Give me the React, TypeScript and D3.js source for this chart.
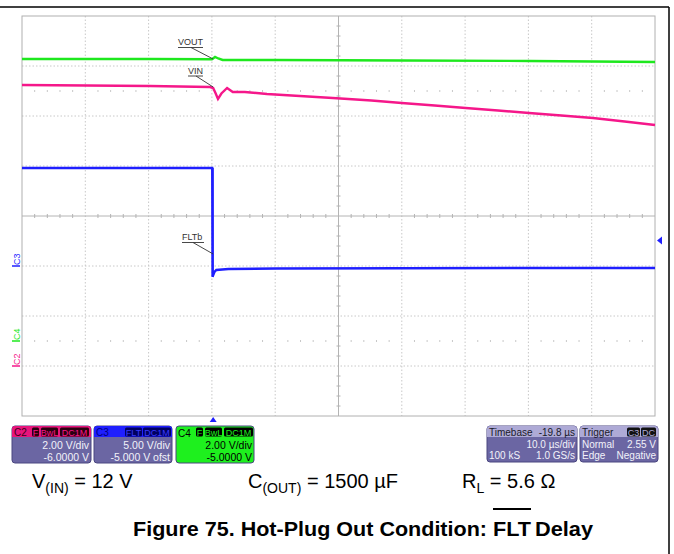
import React from 'react';
import * as d3 from 'd3';

// time axis, µs (10 µs/div, delay -19.8 µs)
const timeDomain = [-30.2, 69.8];

// C2: VIN (2 V/div, -6 V offset)
const vinT = [-30.2, -20, -10, -0.5, 0, 0.4, 0.76, 1.3, 2.2, 3.1, 5.0, 8.5, 18.9, 25, 29.8, 35, 39.9, 45, 49.9, 55, 60, 65, 69.8];
const vinV = [11.24, 11.22, 11.2, 11.16, 11.12, 10.9, 10.68, 10.9, 11.12, 10.96, 10.96, 10.88, 10.72, 10.62, 10.52, 10.42, 10.32, 10.22, 10.12, 10.02, 9.92, 9.78, 9.64];

// C4: VOUT (2 V/div, -5 V offset)
const voutT = [-30.2, -10, -0.2, 0.3, 0.8, 1.5, 10, 30, 50, 69.8];
const voutV = [11.28, 11.28, 11.27, 11.36, 11.3, 11.24, 11.24, 11.22, 11.2, 11.16];

// C3: FLTb (5 V/div, -5 V offset)
const fltT = [-30.2, -10, -0.15, -0.1, 0.2, 0.5, 2.4, 10, 30, 50, 69.8];
const fltV = [9.8, 9.8, 9.8, -1.07, -0.6, -0.4, -0.3, -0.25, -0.22, -0.2, -0.2];

const channels = [
  { name: 'C2', vdiv: 2, offset: -6, color: '#f5178a' },
  { name: 'C3', vdiv: 5, offset: -5, color: '#1f1fff' },
  { name: 'C4', vdiv: 2, offset: -5, color: '#1ee81e' },
];

const triggerLevel = 2.55;

const X0 = 22, X1 = 655, Y0 = 16, Y1 = 416;
const NX = 10, NY = 8;

const xScale = d3.scaleLinear().domain(timeDomain).range([X0, X1]);
const divScale = d3.scaleLinear().domain([-NY / 2, NY / 2]).range([Y1, Y0]);
const chScale = (vdiv: number, offset: number) =>
  d3.scaleLinear().domain([-NY / 2 * vdiv - offset, NY / 2 * vdiv - offset]).range([Y1, Y0]);

const sVin = chScale(2, -6);
const sVout = chScale(2, -5);
const sFlt = chScale(5, -5);

const mkLine = (ys: d3.ScaleLinear<number, number>) =>
  d3.line<[number, number]>().x(d => xScale(d[0])).y(d => ys(d[1]));

const zip = (a: number[], b: number[]) => a.map((t, i) => [t, b[i]] as [number, number]);

const App: React.FC = () => {
  const dx = (X1 - X0) / NX;
  const dy = (Y1 - Y0) / NY;
  const cx = (X0 + X1) / 2;
  const cy = (Y0 + Y1) / 2;
  const font = 'Arial, "Liberation Sans", sans-serif';

  const minorX: number[] = [];
  for (let i = 1; i < NX * 5; i++) if (i % 5 !== 0) minorX.push(X0 + i * dx / 5);
  const minorY: number[] = [];
  for (let i = 1; i < NY * 5; i++) if (i % 5 !== 0) minorY.push(Y0 + i * dy / 5);

  const trigX = xScale(0);
  const trigY = sFlt(triggerLevel);

  const badge = (x: number, y: number, w: number, label: string, fill: string, color: string) => (
    <g key={label + x}>
      <rect x={x} y={y} width={w} height={9} rx={1.5} fill={fill} />
      <text x={x + w / 2} y={y + 8} textAnchor="middle" fontSize={9} fill={color} fontFamily={font}>{label}</text>
    </g>
  );

  return (
    <svg width={674} height={554} style={{ position: 'absolute', left: 0, top: 0, background: '#fff' }}>
      {/* outer frame */}
      <line x1={0} x2={669} y1={7} y2={7} stroke="#000" strokeWidth={1.5} />
      <line x1={669} x2={669} y1={7} y2={554} stroke="#000" strokeWidth={1.5} />

      {/* grid */}
      <g stroke="#c8c8c8" strokeWidth={1} strokeDasharray="1.5,2">
        {d3.range(1, NX).filter(i => i !== NX / 2).map(i => (
          <line key={'gx' + i} x1={X0 + i * dx} x2={X0 + i * dx} y1={Y0} y2={Y1} />
        ))}
        {d3.range(1, NY).filter(i => i !== NY / 2).map(i => (
          <line key={'gy' + i} x1={X0} x2={X1} y1={Y0 + i * dy} y2={Y0 + i * dy} />
        ))}
      </g>
      <g stroke="#b4b4b4" strokeWidth={1}>
        <line x1={cx} x2={cx} y1={Y0} y2={Y1} />
        <line x1={X0} x2={X1} y1={cy} y2={cy} />
        {minorX.map((x, i) => <line key={'tx' + i} x1={x} x2={x} y1={cy - 2} y2={cy + 2} />)}
        {minorY.map((y, i) => <line key={'ty' + i} x1={cx - 2} x2={cx + 2} y1={y} y2={y} />)}
      </g>
      <g fill="#c8c8c8">
        {minorX.map((x, i) => <rect key={'d1' + i} x={x - 0.5} y={Y0 + 1.5 * dy - 1} width={1} height={2} />)}
        {minorX.map((x, i) => <rect key={'d2' + i} x={x - 0.5} y={Y1 - 1.5 * dy - 1} width={1} height={2} />)}
      </g>
      <rect x={X0} y={Y0} width={X1 - X0} height={Y1 - Y0} fill="none" stroke="#b0b0b0" strokeWidth={1} />

      {/* traces */}
      <path d={mkLine(sVout)(zip(voutT, voutV)) || ''} fill="none" stroke="#1ee81e" strokeWidth={2.4} />
      <path d={mkLine(sVin)(zip(vinT, vinV)) || ''} fill="none" stroke="#f5178a" strokeWidth={2.4} />
      <path d={mkLine(sFlt)(zip(fltT, fltV)) || ''} fill="none" stroke="#1f1fff" strokeWidth={2.4} />
      <line x1={trigX} x2={trigX} y1={sFlt(9.8)} y2={sFlt(-1.07)} stroke="#1f1fff" strokeWidth={1.2} />

      {/* annotations */}
      <g fontFamily={font} fontSize={9} fill="#333" stroke="none">
        <text x={178} y={45}>VOUT</text>
        <text x={188} y={74}>VIN</text>
        <text x={182} y={240}>FLTb</text>
      </g>
      <g stroke="#333" strokeWidth={0.9}>
        <line x1={178} x2={203} y1={47.5} y2={47.5} />
        <line x1={191} x2={trigX} y1={47.5} y2={sVout(11.28)} />
        <line x1={188} x2={203} y1={76} y2={76} />
        <line x1={196} x2={trigX} y1={76} y2={sVin(11.16)} />
        <line x1={182} x2={204} y1={242.5} y2={242.5} />
        <line x1={193} x2={trigX} y1={242.5} y2={254} />
      </g>

      {/* channel ground markers */}
      {channels.map(c => {
        const y = divScale(c.offset / c.vdiv);
        return (
          <g key={c.name}>
            <line x1={12} x2={20} y1={y} y2={y} stroke={c.color} strokeWidth={1.5} />
            <text transform={`translate(19.5,${y - 1}) rotate(-90)`} fontSize={9} fill={c.color} fontFamily={font}>{c.name}</text>
          </g>
        );
      })}

      {/* trigger markers */}
      <path d={`M${X1 + 2},${trigY} l5,-4 v8 z`} fill="#1f1fff" />
      <path d={`M${trigX},${Y1 + 1} l-3.5,5 h7 z`} fill="#1f1fff" />

      {/* channel info boxes */}
      <g fontFamily={font}>
        {/* C2 */}
        <rect x={12} y={426} width={79} height={37} rx={3} fill="#6b66a3" stroke="#4a4680" />
        <path d="M12,437 V429 a3,3 0 0 1 3,-3 H88 a3,3 0 0 1 3,3 V437 Z" fill="#e8157c" />
        <text x={14} y={436} fontSize={10} fill="#3a0018">C2</text>
        {badge(32, 427.5, 7, 'F', '#2a0010', '#f5178a')}
        {badge(41, 427.5, 17, 'BwL', '#2a0010', '#f5178a')}
        {badge(60, 427.5, 29, 'DC1M', '#2a0010', '#f5178a')}
        <text x={89} y={449} fontSize={10.5} fill="#f2f2fa" textAnchor="end">2.00 V/div</text>
        <text x={89} y={461} fontSize={10.5} fill="#f2f2fa" textAnchor="end">-6.0000 V</text>

        {/* C3 */}
        <rect x={94} y={426} width={78} height={37} rx={3} fill="#6b66a3" stroke="#4a4680" />
        <path d="M94,437 V429 a3,3 0 0 1 3,-3 H169 a3,3 0 0 1 3,3 V437 Z" fill="#1f1fff" />
        <text x={96} y={436} fontSize={10} fill="#000080">C3</text>
        {badge(125, 427.5, 17, 'FLT', '#000060', '#3a3aff')}
        {badge(143, 427.5, 28, 'DC1M', '#000060', '#3a3aff')}
        <text x={170} y={449} fontSize={10.5} fill="#f2f2fa" textAnchor="end">5.00 V/div</text>
        <text x={170} y={461} fontSize={10.5} fill="#f2f2fa" textAnchor="end">-5.000 V ofst</text>

        {/* C4 */}
        <rect x={176} y={426} width={78} height={37} rx={3} fill="#1ef01e" stroke="#4a4680" />
        <text x={178} y={437} fontSize={10} fill="#000">C4</text>
        {badge(196, 427.5, 7, 'F', '#000', '#1ef01e')}
        {badge(205, 427.5, 17, 'BwL', '#000', '#1ef01e')}
        {badge(224, 427.5, 29, 'DC1M', '#000', '#1ef01e')}
        <text x={252} y={449} fontSize={10.5} fill="#000" textAnchor="end">2.00 V/div</text>
        <text x={252} y={461} fontSize={10.5} fill="#000" textAnchor="end">-5.0000 V</text>

        {/* Timebase */}
        <rect x={487} y={426} width={90} height={36} rx={3} fill="#6b66a3" stroke="#4a4680" />
        <path d="M487,437 V429 a3,3 0 0 1 3,-3 H574 a3,3 0 0 1 3,3 V437 Z" fill="#aeaad6" />
        <text x={489} y={436} fontSize={10} fill="#1a1a2a">Timebase</text>
        <text x={575} y={436} fontSize={10} fill="#1a1a2a" textAnchor="end">-19.8 µs</text>
        <text x={575} y={448} fontSize={10} fill="#f2f2fa" textAnchor="end">10.0 µs/div</text>
        <text x={489} y={459} fontSize={10} fill="#f2f2fa">100 kS</text>
        <text x={575} y={459} fontSize={10} fill="#f2f2fa" textAnchor="end">1.0 GS/s</text>

        {/* Trigger */}
        <rect x={580} y={426} width={78} height={36} rx={3} fill="#6b66a3" stroke="#4a4680" />
        <path d="M580,437 V429 a3,3 0 0 1 3,-3 H655 a3,3 0 0 1 3,3 V437 Z" fill="#aeaad6" />
        <text x={582} y={436} fontSize={10} fill="#1a1a2a">Trigger</text>
        {badge(627, 427.5, 13, 'C3', '#111', '#aeaad6')}
        {badge(641, 427.5, 15, 'DC', '#111', '#aeaad6')}
        <text x={582} y={448} fontSize={10} fill="#f2f2fa">Normal</text>
        <text x={656} y={448} fontSize={10} fill="#f2f2fa" textAnchor="end">2.55 V</text>
        <text x={582} y={459} fontSize={10} fill="#f2f2fa">Edge</text>
        <text x={656} y={459} fontSize={10} fill="#f2f2fa" textAnchor="end">Negative</text>
      </g>

      {/* conditions */}
      <g fontFamily={font} fontSize={20} fill="#000">
        <text x={32} y={488}>V<tspan fontSize={14} dy={5}>(IN)</tspan><tspan dy={-5}> = 12 V</tspan></text>
        <text x={248} y={488}>C<tspan fontSize={14} dy={5}>(OUT)</tspan><tspan dy={-5}> = 1500 µF</tspan></text>
        <text x={462} y={488}>R<tspan fontSize={14} dy={5}>L</tspan><tspan dy={-5}> = 5.6 Ω</tspan></text>
      </g>

      {/* caption */}
      <g fontFamily={font} fontWeight="bold" fontSize={20} fill="#000">
        <text x={133} y={536} textLength={354} lengthAdjust="spacingAndGlyphs">Figure 75. Hot-Plug Out Condition:</text>
        <text x={493} y={536} textLength={38} lengthAdjust="spacingAndGlyphs">FLT</text>
        <text x={535} y={536} textLength={58} lengthAdjust="spacingAndGlyphs">Delay</text>
      </g>
      <line x1={493} x2={531} y1={509} y2={509} stroke="#000" strokeWidth={2} />
    </svg>
  );
};

export default App;
